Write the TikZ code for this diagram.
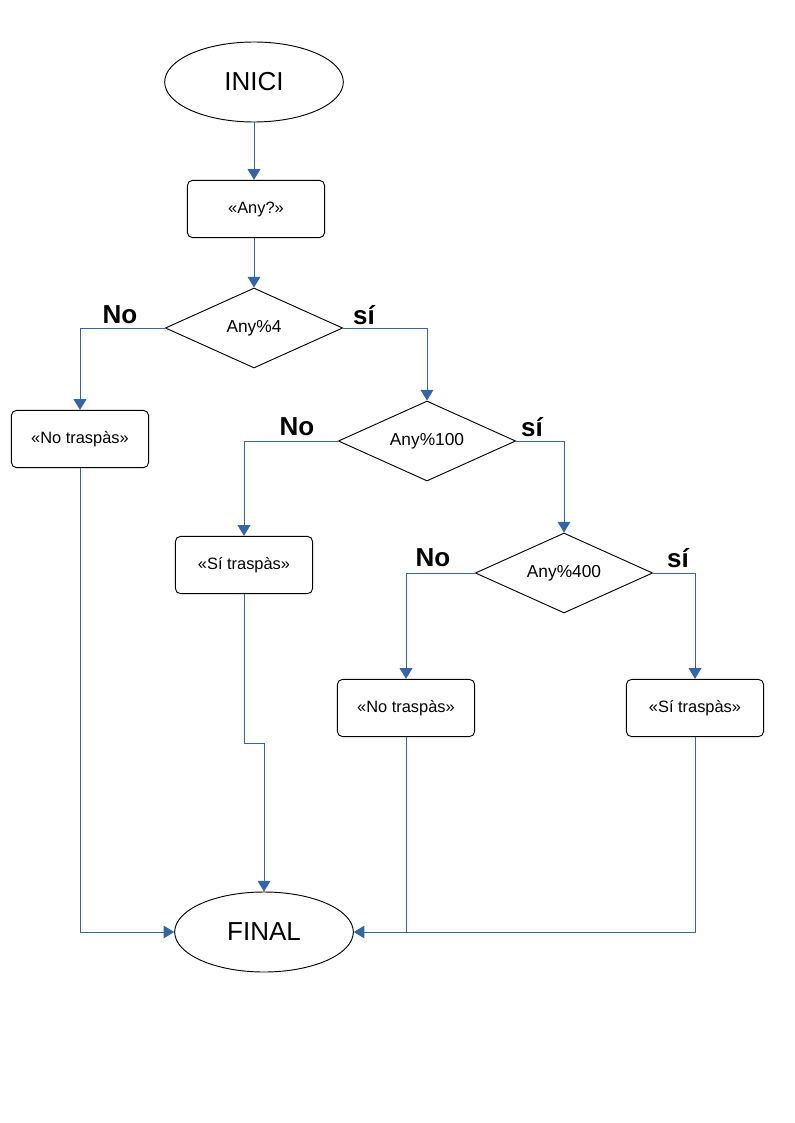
\documentclass[tikz,border=0pt]{standalone}
\usepackage{fontspec}
\setmainfont{Liberation Sans}
\usetikzlibrary{shapes.geometric,arrows.meta}
\definecolor{linkblue}{HTML}{3465A4}
\begin{document}
\begin{tikzpicture}[
    x=0.75pt, y=-0.75pt,
    term/.style={draw=black, ellipse, line width=0.7pt, minimum width=134pt, minimum height=60pt, font=\fontsize{19.5}{22}\selectfont},
    block/.style={draw=black, line width=0.7pt, rounded corners=4pt, minimum width=103pt, minimum height=43pt, font=\fontsize{12.3}{14}\selectfont},
    test/.style={draw=black, line width=0.7pt, diamond, aspect=2.2, inner sep=0pt, minimum width=133pt, minimum height=60pt, font=\fontsize{13}{15}\selectfont},
    answer/.style={font=\fontsize{19.5}{22}\selectfont\bfseries},
    flow/.style={draw=linkblue, line width=0.75pt, -{Triangle[width=9.5pt, length=8pt]}},
    merge/.style={draw=linkblue, line width=0.75pt}
  ]
  \fill[white] (0,0) rectangle (794,1123);

  \node (start) at (254, 82)  [term] {INICI};
  \node (ask)   at (256, 209) [block] {«Any?»};

  \node (d4)   at (254, 328) [test] {Any\%4};
  \node (d100) at (427, 441) [test] {Any\%100};
  \node (d400) at (564, 573) [test] {Any\%400};

  \node (no4)   at (120, 315) [answer] {No};
  \node (si4)   at (364, 315) [answer] {sí};
  \node (no100) at (297, 427) [answer] {No};
  \node (si100) at (532, 427) [answer] {sí};
  \node (no400) at (433, 558) [answer] {No};
  \node (si400) at (678, 558) [answer] {sí};

  \node (r1) at (80, 439)  [block] {«No traspàs»};
  \node (r2) at (244, 565) [block] {«Sí traspàs»};
  \node (r3) at (406, 708) [block] {«No traspàs»};
  \node (r4) at (695, 708) [block] {«Sí traspàs»};

  \node (stop) at (264, 932) [term] {FINAL};

  \draw [flow] (start) -- (start |- ask.north);
  \draw [flow] (ask.south -| d4) -- (d4);
  \draw [flow] (d4.west) -| (r1.north);
  \draw [flow] (d4.east) -| (d100.north);
  \draw [flow] (d100.west) -| (r2.north);
  \draw [flow] (d100.east) -| (d400.north);
  \draw [flow] (d400.west) -| (r3.north);
  \draw [flow] (d400.east) -| (r4.north);

  \draw [flow] (r1.south) |- (stop.west);
  \draw [flow] (r2.south) -- ++(0, 149) -| (stop.north);
  \draw [merge] (r3.south) -- (r3.south |- stop.east);
  \draw [flow] (r4.south) |- (stop.east);
\end{tikzpicture}
\end{document}
